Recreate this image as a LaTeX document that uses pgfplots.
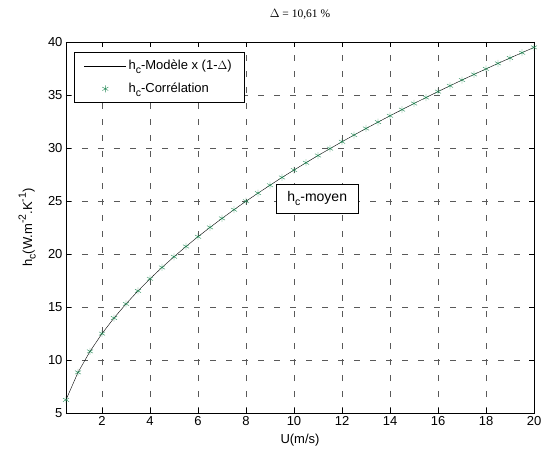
\documentclass[border=0pt]{standalone}
\usepackage{pgfplots}
\pgfplotsset{compat=1.18}
\usepackage{fontspec}
\setmainfont{Liberation Sans}
\newfontfamily\serif{Liberation Serif}
\definecolor{mgreen}{RGB}{40,140,90}
\newcommand\sub[1]{\raisebox{-0.5ex}{\fontsize{10.5}{12}\selectfont #1}}
\newcommand\sups[1]{\raisebox{0.9ex}{\fontsize{10.5}{12}\selectfont #1}}
\pgfplotsset{
  longline legend/.style={legend image code/.code={\draw[##1] (0pt,0pt) -- (42pt,0pt);}},
  midmark legend/.style={legend image code/.code={\draw[##1] plot coordinates {(21pt,0pt)}; \path (0pt,0pt) (42pt,0pt);}},
}
\begin{document}
\begin{tikzpicture}
\begin{axis}[
    name=ax,
    width=468pt, height=371pt, scale only axis,
    xmin=0.5, xmax=20, ymin=5, ymax=40,
    xtick={2,4,...,20}, ytick={5,10,...,40},
    tick align=inside, tick style={black, thin},
    major tick length=5pt,
    grid=major, grid style={black!65, dash pattern=on 6pt off 10pt, thin},
    axis line style={black, thin},
    tick label style={font=\fontsize{13}{15}\selectfont},
    /pgf/number format/assume math mode=true,
    xlabel={U(m/s)}, ylabel={h\sub{c}(W.m\sups{-2}.K\sups{-1})},
    every axis x label/.style={at={(axis description cs:0.5,-0.073)}, anchor=center,
        font=\fontsize{13}{15}\selectfont},
    every axis y label/.style={at={(axis description cs:-0.083,0.5)}, rotate=90, anchor=center,
        font=\fontsize{13}{15}\selectfont},
    title={\serif $\Delta$ = 10,61 \%},
    every axis title/.style={at={(axis description cs:0.5,1.075)}, anchor=center,
        font=\fontsize{11.5}{13}\selectfont},
    legend style={at={(rel axis cs:0.017,0.973)}, anchor=north west,
        draw=black, thin, font=\fontsize{13}{15}\selectfont,
        row sep=8pt, inner xsep=10pt, inner ysep=6pt},
    legend cell align=left,
]
\addplot[black, thin, mark=none, longline legend] coordinates {
(0.5,6.24) (1,8.83) (1.5,10.81) (2,12.49) (2.5,13.96) (3,15.29) (3.5,16.52) (4,17.66)
(4.5,18.73) (5,19.74) (5.5,20.71) (6,21.63) (6.5,22.51) (7,23.36) (7.5,24.18) (8,24.98)
(8.5,25.74) (9,26.49) (9.5,27.22) (10,27.92) (10.5,28.61) (11,29.29) (11.5,29.94) (12,30.59)
(12.5,31.22) (13,31.84) (13.5,32.44) (14,33.04) (14.5,33.62) (15,34.20) (15.5,34.76) (16,35.32)
(16.5,35.87) (17,36.41) (17.5,36.94) (18,37.46) (18.5,37.98) (19,38.49) (19.5,38.99) (20,39.49)
};
\addlegendentry{h\sub{c}-Modèle x (1-$\Delta$)}
\addplot[only marks, mark=asterisk, mark size=3.5pt, color=mgreen, mark options={thin}, midmark legend] coordinates {
(0.5,6.24) (1,8.83) (1.5,10.81) (2,12.49) (2.5,13.96) (3,15.29) (3.5,16.52) (4,17.66)
(4.5,18.73) (5,19.74) (5.5,20.71) (6,21.63) (6.5,22.51) (7,23.36) (7.5,24.18) (8,24.98)
(8.5,25.74) (9,26.49) (9.5,27.22) (10,27.92) (10.5,28.61) (11,29.29) (11.5,29.94) (12,30.59)
(12.5,31.22) (13,31.84) (13.5,32.44) (14,33.04) (14.5,33.62) (15,34.20) (15.5,34.76) (16,35.32)
(16.5,35.87) (17,36.41) (17.5,36.94) (18,37.46) (18.5,37.98) (19,38.49) (19.5,38.99) (20,39.49)
};
\addlegendentry{h\sub{c}-Corrélation}
\node[draw=black, thin, fill=white, anchor=west, inner xsep=6pt, inner ysep=5pt,
    font=\fontsize{14}{16}\selectfont, minimum width=82pt, minimum height=29pt, align=left]
    at (axis cs:9.25,25.25) {h\sub{c}-moyen};
\end{axis}
\pgfresetboundingbox
\path[use as bounding box] ([shift={(-66pt,-37pt)}]ax.south west) rectangle ([shift={(15pt,42pt)}]ax.north east);
\end{tikzpicture}
\end{document}
